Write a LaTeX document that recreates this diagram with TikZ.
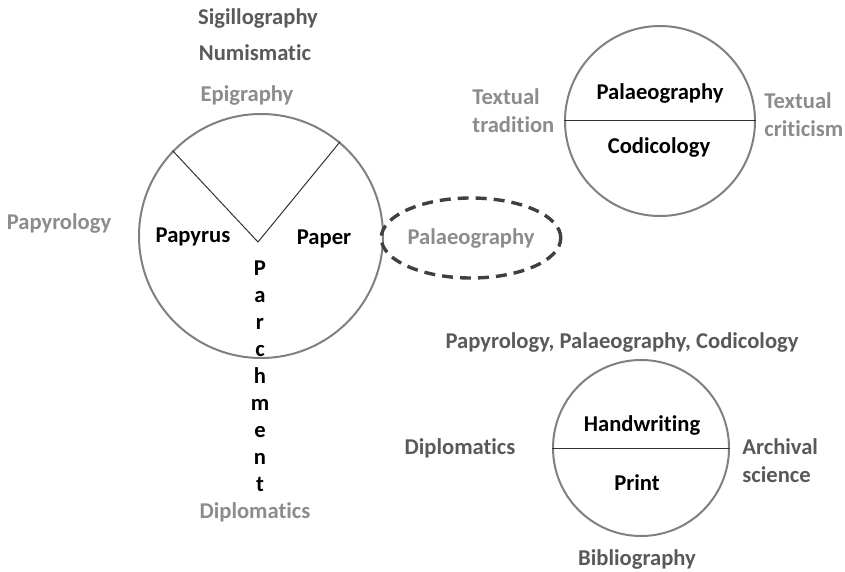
\documentclass[tikz,border=0pt]{standalone}
\usepackage{fontspec}
\setmainfont{Carlito}[RawFeature=-liga]
\usetikzlibrary{shapes.geometric}
\definecolor{darkgrey}{HTML}{595959}
\definecolor{lightgrey}{HTML}{8C8C8C}
\definecolor{rimgrey}{HTML}{808080}
\definecolor{dashgrey}{HTML}{404040}
\begin{document}
\begin{tikzpicture}[x=0.5pt,y=-0.5pt]
	\tikzstyle{field}=[font=\fontsize{11.3}{14}\selectfont\bfseries,inner sep=0pt]
	\tikzstyle{near}=[field,text=darkgrey]
	\tikzstyle{far}=[field,text=lightgrey]
	\tikzstyle{inside}=[field,text=black]
	\tikzstyle{support}=[circle,draw=rimgrey,line width=1pt,inner sep=0pt]
	\tikzstyle{divider}=[draw=black!80,line width=0.5pt]
	\useasboundingbox (0,0) rectangle (845,572);
	% material circle
	\begin{scope}
		\node [support,minimum size=122pt] (material) at (261,236) {};
		\coordinate (fork) at (258,242);
		\path[divider] (material.136) -- (fork) -- (material.50);
		\node [inside] (papyrus) at (193,237) {Papyrus};
		\node [inside] (paper) at (324,239) {Paper};
		\foreach \l [count=\i] in {P,a,r,c,h,m,e,n,t}
			\node [inside,anchor=base] (parch\i) at (260,{275+27*(\i-1)}) {\l};
		\node [near] (sigil) at (258,18) {Sigillography};
		\node [near] (numis) at (255,53) {Numismatic};
		\node [far] (epigr) at (247,95) {Epigraphy};
		\node [far] (papyr) at (59,223) {Papyrology};
		\node [far] (diplo) at (255,512) {Diplomatics};
		\node [far,ellipse,draw=dashgrey,line width=1.7pt,dash pattern=on 5.5pt off 3.5pt,minimum width=88pt,minimum height=40pt] (palaeo) at (471,238) {Palaeography};
	\end{scope}
	% text circle
	\begin{scope}
		\node [support,minimum size=95pt] (text) at (660,121) {};
		\path[divider] (text.west) -- (text.east);
		\node [inside] (palaeotext) at (660,93) {Palaeography};
		\node [inside] (codic) at (659,147) {Codicology};
		\node [far,align=left,anchor=west] (tradition) at (472,111) {Textual\\tradition};
		\node [far,align=left,anchor=west] (criticism) at (764,115) {Textual\\criticism};
	\end{scope}
	% script circle
	\begin{scope}
		\node [support,minimum size=88pt] (script) at (641,448) {};
		\path[divider] (script.west) -- (script.east);
		\node [inside] (hand) at (642,425) {Handwriting};
		\node [inside] (print) at (637,483) {Print};
		\node [near] (triple) at (622,342) {Papyrology, Palaeography, Codicology};
		\node [near] (diploscript) at (460,448) {Diplomatics};
		\node [near,align=left,anchor=west] (archival) at (742,461) {Archival\\science};
		\node [near] (biblio) at (637,559) {Bibliography};
	\end{scope}
\end{tikzpicture}
\end{document}
